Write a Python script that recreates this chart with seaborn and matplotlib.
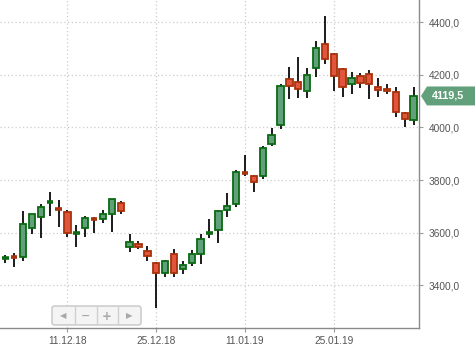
import matplotlib
matplotlib.use("Agg")
import matplotlib.pyplot as plt
import matplotlib.transforms as mtransforms
from matplotlib.patches import Polygon, FancyBboxPatch
import seaborn as sns
import pandas as pd

# ---- data ----
opens  = [3502, 3510, 3506, 3619, 3661, 3717, 3691, 3677, 3599, 3617,
          3653, 3651, 3671, 3712, 3544, 3557, 3531, 3484, 3446, 3519,
          3461, 3484, 3518, 3599, 3609, 3685, 3708, 3829, 3816, 3816,
          3936, 4008, 4183, 4173, 4137, 4225, 4317, 4279, 4221, 4164,
          4195, 4203, 4152, 4146, 4133, 4054, 4028]
highs  = [3515, 3522, 3682, 3672, 3708, 3753, 3724, 3686, 3629, 3663,
          3661, 3686, 3728, 3720, 3595, 3569, 3549, 3490, 3496, 3538,
          3493, 3534, 3595, 3652, 3686, 3752, 3838, 3895, 3818, 3929,
          3997, 4165, 4231, 4266, 4225, 4328, 4424, 4284, 4225, 4212,
          4208, 4218, 4189, 4165, 4152, 4060, 4155]
lows   = [3486, 3471, 3492, 3594, 3581, 3664, 3623, 3585, 3547, 3585,
          3598, 3636, 3604, 3671, 3528, 3538, 3493, 3314, 3430, 3430,
          3443, 3473, 3481, 3581, 3562, 3661, 3699, 3815, 3756, 3804,
          3930, 3993, 4109, 4113, 4113, 4193, 4240, 4139, 4117, 4126,
          4151, 4107, 4117, 4126, 4041, 4000, 4009]
closes = [3503, 3508, 3632, 3670, 3699, 3719, 3689, 3600, 3601, 3655,
          3651, 3670, 3727, 3682, 3563, 3544, 3511, 3446, 3492, 3446,
          3477, 3518, 3576, 3601, 3682, 3700, 3829, 3827, 3794, 3921,
          3970, 4156, 4158, 4147, 4198, 4301, 4259, 4195, 4152, 4187,
          4168, 4165, 4141, 4137, 4057, 4032, 4119.5]
date_tick_pos = [7, 17, 27, 37]
date_tick_labels = ["11.12.18", "25.12.18", "11.01.19", "25.01.19"]
price_ticks = [3400, 3600, 3800, 4000, 4200, 4400]
last_label = "4119,5"

df = pd.DataFrame({"open": opens, "high": highs, "low": lows, "close": closes})
df["idx"] = range(len(df))

sns.set_style("white")
plt.rcParams["font.family"] = ["Liberation Sans", "DejaVu Sans"]

W, H = 475, 346
fig = plt.figure(figsize=(W / 100, H / 100), dpi=100, facecolor="white")
ax = fig.add_axes([0, (H - 328) / H, 419 / W, 328 / H])
ax.set_facecolor("white")

GREEN_FILL, GREEN_EDGE = "#62a07c", "#0b6a12"
RED_FILL, RED_EDGE = "#e0553c", "#a8320c"

# wicks
ax.vlines(df["idx"], df["low"], df["high"], color="black", linewidth=1.25, zorder=2)

# bodies
for _, r in df.iterrows():
    up = r["close"] >= r["open"]
    fill = GREEN_FILL if up else RED_FILL
    edge = GREEN_EDGE if up else RED_EDGE
    lo = min(r["open"], r["close"])
    hgt = abs(r["close"] - r["open"])
    if hgt < 5:
        ax.hlines((r["open"] + r["close"]) / 2, r["idx"] - 0.36, r["idx"] + 0.36,
                  color=edge, linewidth=2.6, zorder=3)
    else:
        ax.bar(r["idx"], hgt, bottom=lo, width=0.72, color=fill,
               edgecolor=edge, linewidth=1.3, zorder=3)

ax.set_xlim(-0.6, 46.6)
ax.set_ylim(3238, 4484)

# grid
for v in price_ticks:
    ax.axhline(v, color="#cccccc", linestyle=(0, (1.0, 2.0)), linewidth=0.9, zorder=0)
for p in date_tick_pos:
    ax.axvline(p, color="#cccccc", linestyle=(0, (1.0, 2.0)), linewidth=0.9, zorder=0)

# spines
for s in ["left", "top"]:
    ax.spines[s].set_visible(False)
for s in ["right", "bottom"]:
    ax.spines[s].set_color("#8a8a8a")
    ax.spines[s].set_linewidth(1.0)

ax.yaxis.tick_right()
ax.set_yticks(price_ticks)
ax.set_yticklabels([f"{v:.1f}".replace(".", ",") for v in price_ticks])
ax.set_xticks(date_tick_pos)
ax.set_xticklabels(date_tick_labels)
ax.tick_params(axis="y", which="both", right=True, left=False, length=3,
               width=0.8, color="#9a9a9a", pad=4, labelsize=7.3, labelcolor="#555555")
ax.tick_params(axis="x", bottom=True, length=3, width=0.8, color="#9a9a9a",
               pad=2.5, labelsize=7.3, labelcolor="#555555")

# last price label
tr = mtransforms.blended_transform_factory(fig.transFigure, ax.transData)
hh = 36
yc = closes[-1]
tip = 421 / W
body = 427 / W
poly = Polygon([(tip, yc), (body, yc + hh), (1.0, yc + hh), (1.0, yc - hh), (body, yc - hh)],
               closed=True, transform=tr, facecolor="#62a07c", edgecolor="none",
               clip_on=False, zorder=5)
fig.patches.append(poly)
fig.text(448 / W, yc, last_label, transform=tr, ha="center", va="center",
         color="white", fontsize=7.8, fontweight="bold", zorder=6)

# navigation control
x0, x1 = 52, 141
yt, yb = 306, 325
nav = FancyBboxPatch(((x0) / W, (H - yb) / H), (x1 - x0) / W, (yb - yt) / H,
                     boxstyle="round,pad=0,rounding_size=0.006",
                     transform=fig.transFigure, facecolor="#f4f4f4",
                     edgecolor="#c6c6c6", linewidth=1.0, zorder=1)
fig.patches.append(nav)
for sx in [75, 97, 118]:
    fig.add_artist(plt.Line2D([sx / W, sx / W], [(H - yb + 1) / H, (H - yt - 1) / H],
                              transform=fig.transFigure, color="#d0d0d0",
                              linewidth=1.0, zorder=2))
for cx, sym, fs in [(63.5, "\u25c0", 6), (86, "\u2212", 8), (107, "+", 8.5), (129, "\u25b6", 6)]:
    fig.text(cx / W, (H - 316) / H, sym, ha="center", va="center", color="#a8a8a8",
             fontsize=fs, fontweight="bold", family=["DejaVu Sans"], zorder=3)

fig.savefig("out.png", dpi=100, facecolor="white")
